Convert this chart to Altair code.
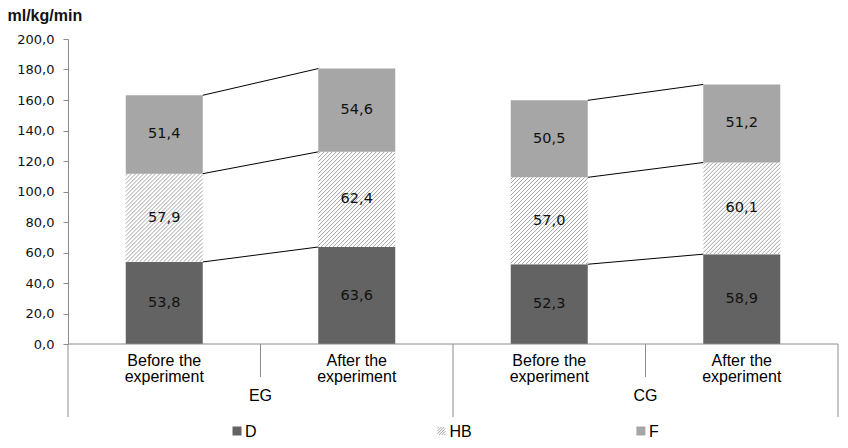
import altair as alt
import pandas as pd

# ---- data ----
groups = ["EG", "EG", "CG", "CG"]
phases = ["Before the\nexperiment", "After the\nexperiment",
          "Before the\nexperiment", "After the\nexperiment"]
components = ["D", "HB", "F"]
D = [53.8, 63.6, 52.3, 58.9]
HB = [57.9, 62.4, 57.0, 60.1]
F = [51.4, 54.6, 50.5, 51.2]
y_ticks = [0, 20, 40, 60, 80, 100, 120, 140, 160, 180, 200]
colors = {"D": "#636363", "HB": "#ffffff", "F": "#a6a6a6"}

# ---- layout ----
W, H = 770, 305
NCAT = len(groups)
SX = W / NCAT          # px per category unit
SY = H / 200.0         # px per y unit
BAR_HALF = 0.2
FONT = "Liberation Sans"

# ---- tables ----
rows = []
for i in range(NCAT):
    start = 0.0
    for comp, vals in zip(components, [D, HB, F]):
        v = vals[i]
        rows.append(dict(idx=i, comp=comp, value=v, start=start, end=start + v,
                         mid=start + v / 2, xl=i + 0.5 - BAR_HALF, xr=i + 0.5 + BAR_HALF,
                         xc=i + 0.5, label=f"{v:.1f}".replace(".", ",")))
        start += v
bars = pd.DataFrame(rows)


def hatch(px0, px1, py0, py1, step=4.0):
    segs = []
    c = px0 - py1 + step / 2
    while c < px1 - py0:
        lo = max(py0, px0 - c)
        hi = min(py1, px1 - c)
        if hi > lo:
            segs.append((lo + c, lo, hi + c, hi))
        c += step
    return segs


hrows = []
for r in bars[bars.comp == "HB"].itertuples():
    for (ax, ay, bx, by) in hatch(r.xl * SX, r.xr * SX, r.start * SY, r.end * SY):
        hrows.append(dict(x=ax / SX, y=ay / SY, x2=bx / SX, y2=by / SY))

# connector lines between before/after bars in each group
crow = []
for b in range(0, NCAT, 2):
    a = b + 1
    cb = [D[b], D[b] + HB[b], D[b] + HB[b] + F[b]]
    ca = [D[a], D[a] + HB[a], D[a] + HB[a] + F[a]]
    for yb, ya in zip(cb, ca):
        crow.append(dict(x=b + 0.5 + BAR_HALF, x2=a + 0.5 - BAR_HALF, y=yb, y2=ya))
conn = pd.DataFrame(crow)

cats = pd.DataFrame(dict(xc=[i + 0.5 for i in range(NCAT)], label=phases))
grp = pd.DataFrame(dict(xc=[1.0, 3.0], label=["EG", "CG"]))
short_sep = pd.DataFrame(dict(x=[1.0, 3.0]))
long_sep = pd.DataFrame(dict(x=[0.0, 2.0, 4.0]))
base = pd.DataFrame(dict(x=[0.0], x2=[float(NCAT)], y=[0.0]))

# legend
leg_x = [0.878, 1.94, 2.976]
LEG_Y = 87  # px below axis
leg = pd.DataFrame(dict(x=leg_x, comp=components))
lh = []
cx = leg_x[1] * SX
for (ax, ay, bx, by) in hatch(cx - 4, cx + 4, -LEG_Y - 4, -LEG_Y + 4, step=2.7):
    lh.append(dict(x=ax / SX, y=ay / SY, x2=bx / SX, y2=by / SY))
hatch_df = pd.DataFrame(hrows + lh)

xs = alt.Scale(domain=[0, NCAT])
ys = alt.Scale(domain=[0, 200], nice=False)
y_axis = alt.Axis(values=y_ticks, labelExpr="replace(format(datum.value, '.1f'), '.', ',')",
                  grid=False, tickSize=5, labelPadding=9, domainColor="#8c8c8c",
                  tickColor="#8c8c8c", labelFont="DejaVu Sans", labelFontSize=13,
                  labelColor="#111111", title="ml/kg/min", titleAngle=0, titleAlign="left",
                  titleBaseline="alphabetic", titleX=-61, titleY=-19, titleFont=FONT,
                  titleFontSize=16, titleFontWeight="bold", titleColor="#111111")


def X(f):
    return alt.X(f, type="quantitative", scale=xs, axis=None)


def Y(f):
    return alt.Y(f, type="quantitative", scale=ys, axis=y_axis)


rects = alt.Chart(bars).mark_rect().encode(
    x=X("xl"), x2="xr", y=Y("start"), y2="end",
    fill=alt.Fill("comp:N", scale=alt.Scale(domain=components,
                                            range=[colors[c] for c in components]), legend=None))

hatch_l = alt.Chart(hatch_df).mark_rule(color="#8a8a8a", strokeWidth=0.8).encode(
    x=X("x"), x2="x2", y=Y("y"), y2="y2")

conn_l = alt.Chart(conn).mark_rule(color="#000000", strokeWidth=1).encode(
    x=X("x"), x2="x2", y=Y("y"), y2="y2")

vals = alt.Chart(bars).mark_text(font="DejaVu Sans", fontSize=14.5, color="#111111",
                                 baseline="middle").encode(
    x=X("xc"), y=Y("mid"), text="label")

base_l = alt.Chart(base).mark_rule(color="#8c8c8c").encode(x=X("x"), x2="x2", y=Y("y"))
short_l = alt.Chart(short_sep).mark_rule(color="#8c8c8c").encode(
    x=X("x"), y=alt.value(H), y2=alt.value(H + 33))
long_l = alt.Chart(long_sep).mark_rule(color="#8c8c8c").encode(
    x=X("x"), y=alt.value(H), y2=alt.value(H + 73))

cat_l = alt.Chart(cats).mark_text(font=FONT, fontSize=16, color="#000000", baseline="top",
                                  lineBreak="\n", lineHeight=16).encode(
    x=X("xc"), y=alt.value(H + 9), text="label")
grp_l = alt.Chart(grp).mark_text(font=FONT, fontSize=16, color="#000000",
                                 baseline="middle").encode(
    x=X("xc"), y=alt.value(H + 52), text="label")

leg_sq = alt.Chart(leg[leg.comp != "HB"]).mark_square(size=81, opacity=1).encode(
    x=X("x"), y=alt.value(H + LEG_Y),
    fill=alt.Fill("comp:N", scale=alt.Scale(domain=components,
                                            range=[colors[c] for c in components]), legend=None))
leg_tx = alt.Chart(leg).mark_text(font=FONT, fontSize=16, color="#000000", align="left",
                                  baseline="middle", dx=8).encode(
    x=X("x"), y=alt.value(H + LEG_Y + 1), text="comp")

chart = alt.layer(rects, hatch_l, conn_l, vals, base_l, short_l, long_l, cat_l, grp_l,
                  leg_sq, leg_tx).properties(
    width=W, height=H,
    autosize=alt.AutoSizeParams(type="none"),
    padding={"left": 60, "top": 31, "right": 2, "bottom": 96},
).configure_view(stroke=None)

chart.save("out.html", embed_options={"renderer": "svg", "actions": False})
